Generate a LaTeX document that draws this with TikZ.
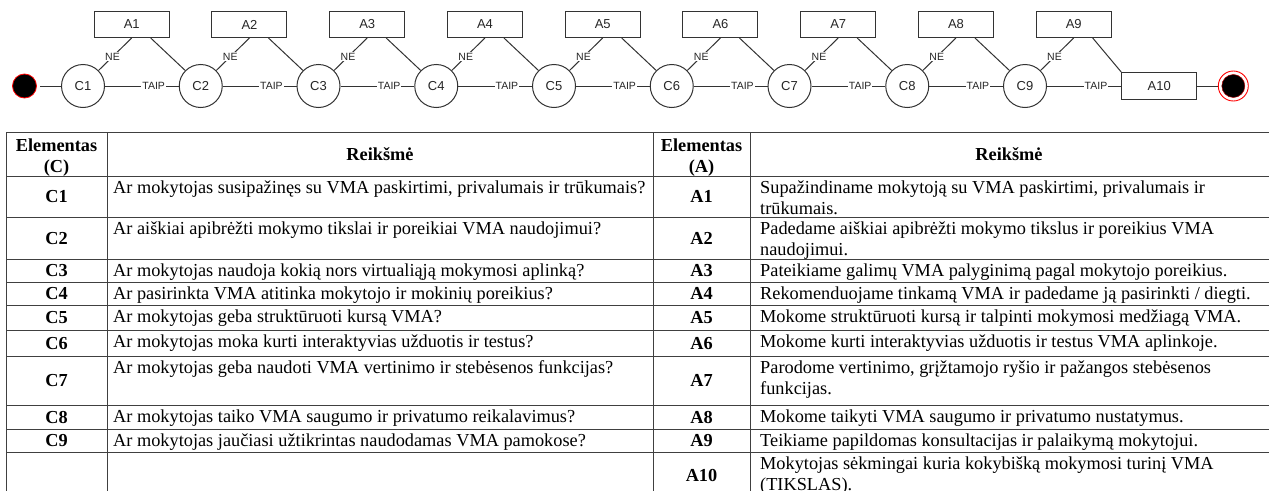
\documentclass[tikz,border=0pt]{standalone}
\usepackage{fontspec}
\setmainfont{Liberation Serif}
\newfontfamily\diagfont{Liberation Sans}

\tikzset{
  ln/.style={draw=black!80, line width=1pt},
  cnode/.style={circle, draw=black!80, line width=1pt, minimum size=43pt, inner sep=0pt,
    font=\diagfont\fontsize{13}{15}\selectfont, text=black!85},
  abox/.style={rectangle, draw=black!80, line width=1pt, minimum width=75pt, minimum height=26pt,
    inner sep=0pt, font=\diagfont\fontsize{13}{15}\selectfont, text=black!85},
  elab/.style={fill=white, inner sep=1pt, font=\diagfont\fontsize{10.5}{12}\selectfont, text=black!85},
  startdot/.style={circle, fill=black, draw=red, line width=0.8pt, minimum size=24pt, inner sep=0pt},
  endring/.style={circle, fill=white, draw=red, line width=0.9pt, minimum size=30pt, inner sep=0pt},
  enddot/.style={circle, fill=black, draw=red!70!black, line width=0.5pt, minimum size=23pt, inner sep=0pt},
  grid/.style={draw=black!75, line width=0.9pt},
  cell/.style={inner sep=0pt, anchor=base west, font=\fontsize{18.3}{21}\selectfont},
  cellb/.style={inner sep=0pt, anchor=base, font=\bfseries\fontsize{18.3}{21}\selectfont},
}

\begin{document}
\begin{tikzpicture}[x=1pt, y=-1pt]
\useasboundingbox (0,0) rectangle (1269,490);
\clip (0,0) rectangle (1269,490);

% ---------- decision chain ----------
\node[startdot] (st) at (24.5,86) {};
\foreach \i in {1,...,9}
  \node[cnode] (C\i) at ({83+(\i-1)*117.75},86) {C\i};
\foreach \i in {1,...,9}
  \node[abox] (A\i) at ({131.7+(\i-1)*117.75},24.5) {A\i};
\node[abox, minimum height=27pt] (A10) at (1159.2,86) {A10};
\node[endring] (en) at (1233.3,86) {};
\node[enddot] (endin) at (en) {};

\draw[ln, shorten <=3.5pt] (st) -- (C1);
\foreach \i/\j in {1/2,2/3,3/4,4/5,5/6,6/7,7/8,8/9}
  \draw[ln] (C\i) -- node[elab, pos=0.66] (taip\i) {TAIP} (C\j);
\draw[ln] (C9) -- node[elab, pos=0.66] (taip9) {TAIP} (A10);
\foreach \i in {1,...,9}
  \draw[ln] (C\i.45) -- node[elab, pos=0.42] (ne\i) {NE} (A\i.south);
\foreach \i/\j in {1/2,2/3,3/4,4/5,5/6,6/7,7/8,8/9}
  \draw[ln] ([xshift=19pt]A\i.south) -- (C\j.135);
\draw[ln] ([xshift=19pt]A9.south) -- (A10.north west);
\draw[ln] (A10) -- (en);

% ---------- table grid ----------
\foreach \y in {132,176,217,259,282,305,330,356,405,429,452}
  \draw[grid] (6,\y) -- (1269,\y);
\foreach \x in {6,107,653,750}
  \draw[grid] (\x,132) -- (\x,492);

% ---------- header ----------
\node[cellb] (hc1) at (56.5,151.5) {Elementas};
\node[cellb] (hc2) at (56.5,172.5) {(C)};
\node[cellb] (hr1) at (380,160) {Reikšmė};
\node[cellb] (ha1) at (701.5,151.5) {Elementas};
\node[cellb] (ha2) at (701.5,172.5) {(A)};
\node[cellb] (hr2) at (1009,160) {Reikšmė};

% ---------- element labels ----------
\node[cellb] (lc1) at (56.5,202.5) {C1};
\node[cellb] (lc2) at (56.5,244) {C2};
\node[cellb] (lc3) at (56.5,276.5) {C3};
\node[cellb] (lc4) at (56.5,299.5) {C4};
\node[cellb] (lc5) at (56.5,323.5) {C5};
\node[cellb] (lc6) at (56.5,349) {C6};
\node[cellb] (lc7) at (56.5,386.5) {C7};
\node[cellb] (lc8) at (56.5,423) {C8};
\node[cellb] (lc9) at (56.5,446.5) {C9};

\node[cellb] (la1) at (701.5,202.5) {A1};
\node[cellb] (la2) at (701.5,244) {A2};
\node[cellb] (la3) at (701.5,276.5) {A3};
\node[cellb] (la4) at (701.5,299.5) {A4};
\node[cellb] (la5) at (701.5,323.5) {A5};
\node[cellb] (la6) at (701.5,349) {A6};
\node[cellb] (la7) at (701.5,386.5) {A7};
\node[cellb] (la8) at (701.5,423) {A8};
\node[cellb] (la9) at (701.5,446.5) {A9};
\node[cellb] (la10) at (701.5,481) {A10};

% ---------- questions ----------
\node[cell] (qc1) at (113,193.5) {Ar mokytojas susipažinęs su VMA paskirtimi, privalumais ir trūkumais?};
\node[cell] (qc2) at (113,234.5) {Ar aiškiai apibrėžti mokymo tikslai ir poreikiai VMA naudojimui?};
\node[cell] (qc3) at (113,276.5) {Ar mokytojas naudoja kokią nors virtualiąją mokymosi aplinką?};
\node[cell] (qc4) at (113,299.5) {Ar pasirinkta VMA atitinka mokytojo ir mokinių poreikius?};
\node[cell] (qc5) at (113,322.5) {Ar mokytojas geba struktūruoti kursą VMA?};
\node[cell] (qc6) at (113,347.5) {Ar mokytojas moka kurti interaktyvias užduotis ir testus?};
\node[cell] (qc7) at (113,373.5) {Ar mokytojas geba naudoti VMA vertinimo ir stebėsenos funkcijas?};
\node[cell] (qc8) at (113,422.5) {Ar mokytojas taiko VMA saugumo ir privatumo reikalavimus?};
\node[cell] (qc9) at (113,446.5) {Ar mokytojas jaučiasi užtikrintas naudodamas VMA pamokose?};

% ---------- actions ----------
\node[cell] (ta1a) at (760,193.5) {Supažindiname mokytoją su VMA paskirtimi, privalumais ir};
\node[cell] (ta1b) at (760,214.5) {trūkumais.};
\node[cell] (ta2a) at (760,234.5) {Padedame aiškiai apibrėžti mokymo tikslus ir poreikius VMA};
\node[cell] (ta2b) at (760,255.5) {naudojimui.};
\node[cell] (ta3) at (760,276.5) {Pateikiame galimų VMA palyginimą pagal mokytojo poreikius.};
\node[cell] (ta4) at (760,299.5) {Rekomenduojame tinkamą VMA ir padedame ją pasirinkti / diegti.};
\node[cell] (ta5) at (760,322.5) {Mokome struktūruoti kursą ir talpinti mokymosi medžiagą VMA.};
\node[cell] (ta6) at (760,347.5) {Mokome kurti interaktyvias užduotis ir testus VMA aplinkoje.};
\node[cell] (ta7a) at (760,373.5) {Parodome vertinimo, grįžtamojo ryšio ir pažangos stebėsenos};
\node[cell] (ta7b) at (760,394.5) {funkcijas.};
\node[cell] (ta8) at (760,422.5) {Mokome taikyti VMA saugumo ir privatumo nustatymus.};
\node[cell] (ta9) at (760,446.5) {Teikiame papildomas konsultacijas ir palaikymą mokytojui.};
\node[cell] (ta10a) at (760,469.5) {Mokytojas sėkmingai kuria kokybišką mokymosi turinį VMA};
\node[cell] (ta10b) at (760,490.5) {(TIKSLAS).};
\end{tikzpicture}
\end{document}
